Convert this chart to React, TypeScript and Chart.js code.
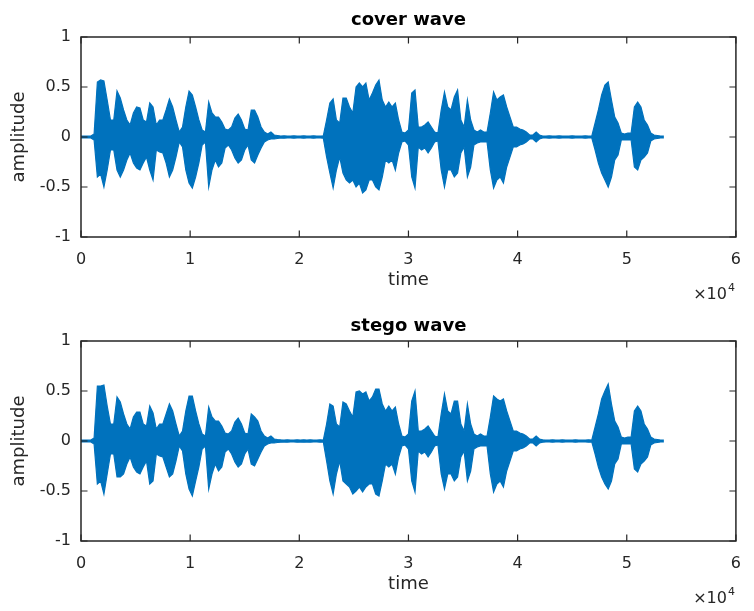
import { useEffect, useRef } from "react";
import { Chart, registerables } from "chart.js";

Chart.register(...registerables);

// ---- data -------------------------------------------------------------
const SAMPLE_STEP = 300; // samples between envelope readings
const X_TICKS = [0, 1, 2, 3, 4, 5, 6]; // in units of 10^4 samples
const Y_TICKS = [-1, -0.5, 0, 0.5, 1];

const coverUpper = [
  0.01, 0.01, 0.01, 0.01, 0.03, 0.55, 0.57, 0.56, 0.37, 0.17,
  0.17, 0.46, 0.39, 0.27, 0.17, 0.12, 0.24, 0.30, 0.29, 0.17,
  0.15, 0.34, 0.30, 0.12, 0.17, 0.17, 0.27, 0.38, 0.30, 0.17,
  0.05, 0.10, 0.30, 0.46, 0.42, 0.30, 0.17, 0.07, 0.05, 0.35,
  0.24, 0.20, 0.20, 0.15, 0.08, 0.07, 0.10, 0.19, 0.23, 0.17,
  0.08, 0.07, 0.27, 0.27, 0.20, 0.10, 0.05, 0.03, 0.05, 0.02,
  0.015, 0.01, 0.012, 0.01, 0.01, 0.012, 0.01, 0.01, 0.012, 0.01,
  0.01, 0.012, 0.01, 0.01, 0.012, 0.17, 0.34, 0.38, 0.17, 0.14,
  0.39, 0.39, 0.30, 0.24, 0.50, 0.54, 0.50, 0.54, 0.37, 0.44,
  0.52, 0.57, 0.37, 0.30, 0.35, 0.30, 0.34, 0.17, 0.05, 0.04,
  0.07, 0.44, 0.47, 0.10, 0.10, 0.12, 0.15, 0.10, 0.05, 0.04,
  0.27, 0.45, 0.30, 0.27, 0.40, 0.47, 0.17, 0.10, 0.37, 0.17,
  0.07, 0.05, 0.07, 0.05, 0.05, 0.24, 0.45, 0.37, 0.40, 0.42,
  0.30, 0.20, 0.10, 0.10, 0.08, 0.07, 0.05, 0.02, 0.02, 0.05,
  0.02, 0.01, 0.01, 0.012, 0.01, 0.01, 0.012, 0.01, 0.01, 0.01,
  0.012, 0.01, 0.01, 0.01, 0.012, 0.01, 0.01, 0.14, 0.27, 0.42,
  0.52, 0.55, 0.37, 0.20, 0.14, 0.04, 0.03, 0.04, 0.04, 0.30,
  0.35, 0.30, 0.17, 0.12, 0.04, 0.02, 0.015, 0.01, 0.01,
];

const coverLower = [
  -0.01, -0.01, -0.01, -0.01, -0.03, -0.40, -0.37, -0.50, -0.33, -0.13,
  -0.13, -0.33, -0.40, -0.33, -0.23, -0.16, -0.26, -0.31, -0.33, -0.26,
  -0.20, -0.33, -0.43, -0.13, -0.15, -0.16, -0.26, -0.40, -0.33, -0.20,
  -0.05, -0.10, -0.33, -0.46, -0.51, -0.40, -0.26, -0.08, -0.05, -0.50,
  -0.33, -0.23, -0.30, -0.26, -0.11, -0.08, -0.13, -0.21, -0.26, -0.23,
  -0.13, -0.08, -0.23, -0.26, -0.18, -0.11, -0.05, -0.03, -0.02, -0.02,
  -0.015, -0.01, -0.012, -0.01, -0.01, -0.012, -0.01, -0.01, -0.012, -0.01,
  -0.01, -0.012, -0.01, -0.01, -0.012, -0.20, -0.36, -0.51, -0.33, -0.20,
  -0.36, -0.43, -0.46, -0.43, -0.50, -0.46, -0.56, -0.53, -0.43, -0.43,
  -0.50, -0.53, -0.40, -0.23, -0.26, -0.23, -0.33, -0.16, -0.05, -0.04,
  -0.08, -0.40, -0.51, -0.10, -0.13, -0.11, -0.16, -0.11, -0.05, -0.04,
  -0.33, -0.50, -0.33, -0.33, -0.40, -0.36, -0.16, -0.10, -0.40, -0.30,
  -0.08, -0.06, -0.05, -0.05, -0.05, -0.33, -0.51, -0.43, -0.40, -0.46,
  -0.30, -0.20, -0.10, -0.10, -0.08, -0.07, -0.05, -0.02, -0.02, -0.05,
  -0.02, -0.01, -0.01, -0.012, -0.01, -0.01, -0.012, -0.01, -0.01, -0.01,
  -0.012, -0.01, -0.01, -0.01, -0.012, -0.01, -0.01, -0.13, -0.26, -0.36,
  -0.43, -0.50, -0.40, -0.23, -0.18, -0.03, -0.03, -0.03, -0.03, -0.30,
  -0.33, -0.23, -0.20, -0.16, -0.04, -0.02, -0.015, -0.01, -0.01,
];

const stegoUpper = [
  0.01, 0.01, 0.01, 0.01, 0.03, 0.55, 0.55, 0.56, 0.35, 0.17,
  0.17, 0.44, 0.39, 0.27, 0.17, 0.12, 0.24, 0.29, 0.29, 0.17,
  0.15, 0.35, 0.28, 0.12, 0.17, 0.17, 0.27, 0.37, 0.30, 0.17,
  0.05, 0.10, 0.30, 0.45, 0.45, 0.30, 0.17, 0.07, 0.05, 0.34,
  0.24, 0.20, 0.20, 0.15, 0.08, 0.07, 0.10, 0.19, 0.23, 0.17,
  0.08, 0.07, 0.27, 0.24, 0.20, 0.10, 0.05, 0.03, 0.05, 0.02,
  0.015, 0.012, 0.01, 0.012, 0.01, 0.01, 0.012, 0.01, 0.012, 0.01,
  0.012, 0.01, 0.01, 0.012, 0.01, 0.17, 0.37, 0.35, 0.17, 0.14,
  0.39, 0.37, 0.30, 0.24, 0.49, 0.50, 0.47, 0.49, 0.40, 0.44,
  0.52, 0.52, 0.37, 0.30, 0.35, 0.30, 0.34, 0.17, 0.05, 0.04,
  0.07, 0.40, 0.50, 0.10, 0.10, 0.12, 0.15, 0.10, 0.05, 0.04,
  0.27, 0.47, 0.30, 0.27, 0.40, 0.40, 0.17, 0.10, 0.37, 0.17,
  0.07, 0.05, 0.07, 0.05, 0.05, 0.24, 0.45, 0.42, 0.40, 0.42,
  0.30, 0.20, 0.10, 0.10, 0.08, 0.07, 0.05, 0.02, 0.02, 0.05,
  0.02, 0.012, 0.01, 0.01, 0.012, 0.01, 0.01, 0.012, 0.01, 0.01,
  0.01, 0.012, 0.01, 0.01, 0.01, 0.012, 0.01, 0.14, 0.27, 0.42,
  0.50, 0.57, 0.37, 0.20, 0.14, 0.04, 0.03, 0.04, 0.04, 0.30,
  0.35, 0.30, 0.17, 0.12, 0.04, 0.02, 0.015, 0.01, 0.01,
];

const stegoLower = [
  -0.01, -0.01, -0.01, -0.01, -0.03, -0.43, -0.40, -0.53, -0.33, -0.13,
  -0.13, -0.36, -0.36, -0.33, -0.23, -0.16, -0.26, -0.31, -0.33, -0.26,
  -0.20, -0.43, -0.40, -0.13, -0.15, -0.16, -0.26, -0.36, -0.33, -0.20,
  -0.05, -0.10, -0.33, -0.48, -0.55, -0.40, -0.26, -0.08, -0.05, -0.48,
  -0.33, -0.23, -0.30, -0.26, -0.11, -0.08, -0.13, -0.21, -0.26, -0.23,
  -0.13, -0.08, -0.23, -0.25, -0.18, -0.11, -0.05, -0.03, -0.02, -0.02,
  -0.015, -0.012, -0.01, -0.012, -0.01, -0.01, -0.012, -0.01, -0.012, -0.01,
  -0.012, -0.01, -0.01, -0.012, -0.01, -0.20, -0.40, -0.53, -0.33, -0.20,
  -0.40, -0.43, -0.46, -0.53, -0.50, -0.46, -0.51, -0.46, -0.43, -0.43,
  -0.53, -0.55, -0.40, -0.23, -0.26, -0.23, -0.33, -0.16, -0.05, -0.04,
  -0.08, -0.40, -0.51, -0.10, -0.13, -0.11, -0.16, -0.11, -0.05, -0.04,
  -0.33, -0.48, -0.33, -0.33, -0.40, -0.36, -0.16, -0.10, -0.40, -0.30,
  -0.08, -0.06, -0.05, -0.05, -0.05, -0.33, -0.51, -0.43, -0.40, -0.46,
  -0.30, -0.20, -0.10, -0.10, -0.08, -0.07, -0.05, -0.02, -0.02, -0.05,
  -0.02, -0.012, -0.01, -0.01, -0.012, -0.01, -0.01, -0.012, -0.01, -0.01,
  -0.01, -0.012, -0.01, -0.01, -0.01, -0.012, -0.01, -0.13, -0.26, -0.36,
  -0.43, -0.48, -0.40, -0.23, -0.18, -0.03, -0.03, -0.03, -0.03, -0.28,
  -0.31, -0.23, -0.20, -0.16, -0.04, -0.02, -0.015, -0.01, -0.01,
];

// ---- style --------------------------------------------------------------
const W = 754;
const BLUE = "#0072BD";
const AXIS = "#262626";
const FONT = "'DejaVu Sans', sans-serif";
const TICK_SIZE = 16;
const LABEL_SIZE = 18;
const TITLE_SIZE = 18;
const PLOT_LEFT = 81;
const PLOT_RIGHT = 746;
const TICK_LEN = 6.5;

const boxPlugin = {
  id: "matlabBox",
  afterDraw(chart: any) {
    const { ctx, chartArea } = chart;
    const { left, right, top, bottom } = chartArea;
    const xs = chart.scales.x;
    const ys = chart.scales.y;
    ctx.save();
    ctx.strokeStyle = AXIS;
    ctx.lineWidth = 1.5;
    ctx.strokeRect(left, top, right - left, bottom - top);
    ctx.lineWidth = 1.2;
    ctx.beginPath();
    X_TICKS.forEach((t) => {
      const px = xs.getPixelForValue(t * 10000);
      ctx.moveTo(px, bottom);
      ctx.lineTo(px, bottom - TICK_LEN);
      ctx.moveTo(px, top);
      ctx.lineTo(px, top + TICK_LEN);
    });
    Y_TICKS.forEach((t) => {
      const py = ys.getPixelForValue(t);
      ctx.moveTo(left, py);
      ctx.lineTo(left + TICK_LEN, py);
      ctx.moveTo(right, py);
      ctx.lineTo(right - TICK_LEN, py);
    });
    ctx.stroke();
    // exponent label
    ctx.fillStyle = AXIS;
    ctx.textBaseline = "alphabetic";
    ctx.textAlign = "right";
    ctx.font = `${TICK_SIZE}px ${FONT}`;
    const baseY = bottom + 62;
    ctx.fillText("\u00d710", right - 9, baseY);
    ctx.textAlign = "left";
    ctx.font = `${11}px ${FONT}`;
    ctx.fillText("4", right - 8, baseY - 8);
    ctx.restore();
  },
};

function makeConfig(
  title: string,
  upper: number[],
  lower: number[],
  H: number,
  plotTop: number,
  plotBottom: number,
  titleCenter: number
): any {
  const time = upper.map((_, i) => i * SAMPLE_STEP);
  const titleLH = TITLE_SIZE * 1.2;
  const tPadTop = titleCenter - titleLH / 2;
  const tPadBottom = plotTop - tPadTop - titleLH;
  const labelLH = LABEL_SIZE * 1.2;
  const xTitlePadBottom = H - (plotBottom + 43) - labelLH / 2;
  const tickFont = { family: FONT, size: TICK_SIZE, lineHeight: 1.2 };
  const labelFont = { family: FONT, size: LABEL_SIZE, lineHeight: 1.2 };
  const common = {
    borderColor: BLUE,
    backgroundColor: BLUE,
    borderWidth: 1.2,
    pointRadius: 0,
    tension: 0,
  };
  return {
    type: "line",
    data: {
      datasets: [
        {
          ...common,
          data: time.map((t, i) => ({ x: t, y: upper[i] })),
          fill: "+1",
        },
        {
          ...common,
          data: time.map((t, i) => ({ x: t, y: lower[i] })),
          fill: false,
        },
      ],
    },
    options: {
      animation: false,
      responsive: false,
      devicePixelRatio: 1,
      events: [],
      layout: { padding: { left: 0, right: W - PLOT_RIGHT, top: 0, bottom: 0 } },
      plugins: {
        legend: { display: false },
        tooltip: { enabled: false },
        title: {
          display: true,
          text: title,
          fullSize: false,
          color: "#000",
          font: { family: FONT, size: TITLE_SIZE, weight: "bold", lineHeight: 1.2 },
          padding: { top: tPadTop, bottom: tPadBottom },
        },
      },
      scales: {
        x: {
          type: "linear",
          min: 0,
          max: 60000,
          afterBuildTicks: (s: any) => {
            s.ticks = X_TICKS.map((v) => ({ value: v * 10000 }));
          },
          ticks: {
            callback: (v: number) => String(v / 10000),
            font: tickFont,
            color: AXIS,
            padding: 13,
            maxRotation: 0,
            autoSkip: false,
          },
          grid: { display: false, drawTicks: false },
          border: { display: false },
          title: {
            display: true,
            text: "time",
            font: labelFont,
            color: AXIS,
            padding: { top: 0, bottom: xTitlePadBottom },
          },
          afterFit: (s: any) => {
            s.height = H - plotBottom;
          },
        },
        y: {
          type: "linear",
          min: -1,
          max: 1,
          afterBuildTicks: (s: any) => {
            s.ticks = Y_TICKS.map((v) => ({ value: v }));
          },
          ticks: {
            callback: (v: number) => String(v),
            font: tickFont,
            color: AXIS,
            padding: 10,
            autoSkip: false,
          },
          grid: { display: false, drawTicks: false },
          border: { display: false },
          title: {
            display: true,
            text: "amplitude",
            font: labelFont,
            color: AXIS,
            padding: { top: 9, bottom: 0 },
          },
          afterFit: (s: any) => {
            s.width = PLOT_LEFT;
          },
        },
      },
    },
    plugins: [boxPlugin],
  };
}

function WavePanel(props: {
  title: string;
  upper: number[];
  lower: number[];
  H: number;
  plotTop: number;
  plotBottom: number;
  titleCenter: number;
}) {
  const ref = useRef<HTMLCanvasElement | null>(null);
  useEffect(() => {
    if (!ref.current) return;
    const chart = new Chart(
      ref.current,
      makeConfig(
        props.title,
        props.upper,
        props.lower,
        props.H,
        props.plotTop,
        props.plotBottom,
        props.titleCenter
      )
    );
    return () => chart.destroy();
  }, []);
  return (
    <canvas
      ref={ref}
      width={W}
      height={props.H}
      style={{ display: "block", width: W, height: props.H }}
    />
  );
}

export default function App() {
  return (
    <div
      style={{
        position: "absolute",
        left: 0,
        top: 0,
        width: W,
        height: 611,
        background: "#fff",
      }}
    >
      <WavePanel
        title="cover wave"
        upper={coverUpper}
        lower={coverLower}
        H={305}
        plotTop={37}
        plotBottom={237}
        titleCenter={20}
      />
      <WavePanel
        title="stego wave"
        upper={stegoUpper}
        lower={stegoLower}
        H={306}
        plotTop={36}
        plotBottom={236}
        titleCenter={21}
      />
    </div>
  );
}
